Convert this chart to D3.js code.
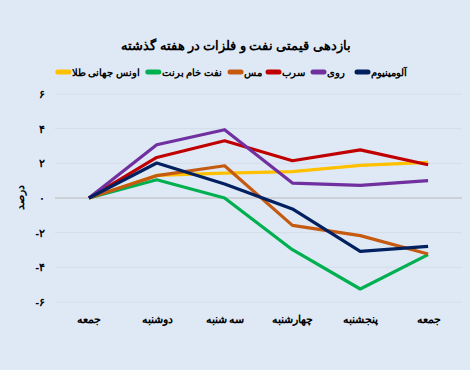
<!DOCTYPE html>
<html>
<head>
<meta charset="utf-8">
<script src="https://cdn.jsdelivr.net/npm/d3@7"></script>
<style>
  body { margin: 0; background: #dfe9f5; }
  svg { display: block; font-family: "Noto Sans", sans-serif; font-weight: bold; }
</style>
</head>
<body>
<svg id="chart" width="470" height="370"></svg>
<script>
// روزهای هفته (محور افقی)
var days = ["جمعه", "دوشنبه", "سه شنبه", "چهارشنبه", "پنجشنبه", "جمعه "];
var yTicks = [-6, -4, -2, 0, 2, 4, 6];

// بازدهی هر دارایی (درصد)
var gold     = [0, 1.30, 1.44, 1.52, 1.88, 2.05];
var brent    = [0, 1.05, 0.00, -2.98, -5.25, -3.27];
var copper   = [0, 1.29, 1.86, -1.58, -2.17, -3.23];
var lead     = [0, 2.34, 3.30, 2.15, 2.78, 1.92];
var zinc     = [0, 3.07, 3.94, 0.86, 0.73, 1.00];
var aluminum = [0, 2.02, 0.81, -0.63, -3.08, -2.79];

var seriesNames  = ["اونس جهانی طلا", "نفت خام برنت", "مس", "سرب", "روی", "آلومینیوم"];
var seriesValues = [gold, brent, copper, lead, zinc, aluminum];
var seriesColors = ["#ffc000", "#00b050", "#c55a11", "#c00000", "#7030a0", "#002060"];

var svg = d3.select("#chart");
var margin = {left: 55, right: 8};
var W = 470;

function fa(n) {
    var s = String(Math.abs(n)).replace(/[0-9]/g, function(c) { return "۰۱۲۳۴۵۶۷۸۹"[+c]; });
    return n < 0 ? "-" + s : s;
}

var x = d3.scalePoint().domain(days).range([margin.left, W - margin.right]).padding(0.5);
var y = d3.scaleLinear().domain([-6, 6]).range([302, 94]);

// grid
svg.append("g").selectAll("line")
    .data(yTicks)
    .enter().append("line")
    .attr("x1", margin.left).attr("x2", 462)
    .attr("y1", d => y(d)).attr("y2", d => y(d))
    .attr("stroke", d => d === 0 ? "#cdd1d6" : "#d4dde8")
    .attr("stroke-width", d => d === 0 ? 2 : 1);

// y axis labels
var yAxis = svg.append("g")
    .attr("transform", "translate(45,0)")
    .call(d3.axisLeft(y).tickValues(yTicks).tickSize(0).tickPadding(0).tickFormat(fa));
yAxis.select(".domain").remove();
yAxis.selectAll("text")
    .attr("font-family", "Noto Sans").attr("font-weight", "bold")
    .attr("font-size", 11).attr("fill", "#000").attr("text-anchor", "end");

// x axis labels
var xAxis = svg.append("g")
    .attr("transform", "translate(0,313)")
    .call(d3.axisBottom(x).tickSize(0));
xAxis.select(".domain").remove();
xAxis.selectAll("text")
    .attr("font-family", "Noto Sans").attr("font-weight", "bold")
    .attr("font-size", 10.5).attr("fill", "#000");

// lines
var line = d3.line().x((d, i) => x(days[i])).y(d => y(d));
svg.append("g").selectAll("path")
    .data(seriesValues)
    .enter().append("path")
    .attr("d", line)
    .attr("fill", "none")
    .attr("stroke", (d, i) => seriesColors[i])
    .attr("stroke-width", 3.2)
    .attr("stroke-linejoin", "round");

// title
svg.append("text")
    .attr("x", 236).attr("y", 50)
    .attr("text-anchor", "middle")
    .attr("font-size", 12.8)
    .attr("fill", "#000")
    .text("بازدهی قیمتی نفت و فلزات در هفته گذشته");

// y label
svg.append("text")
    .attr("transform", "translate(24,197) rotate(-90)")
    .attr("text-anchor", "middle")
    .attr("font-size", 10.5)
    .text("درصد");

// legend (right to left), right edge of each label
var legendX = [407, 345, 305, 262, 222, 140];
var legend = svg.append("g").selectAll("g")
    .data(seriesNames.map((n, i) => i).reverse())
    .enter().append("g");
legend.append("text")
    .attr("x", (d, j) => legendX[j])
    .attr("y", 76)
    .attr("text-anchor", "end")
    .attr("font-size", 10)
    .text(d => seriesNames[d]);
legend.append("line")
    .attr("x1", function(d, j) { return legendX[j] - this.parentNode.querySelector("text").getComputedTextLength() - 14; })
    .attr("x2", function(d, j) { return legendX[j] - this.parentNode.querySelector("text").getComputedTextLength() - 3; })
    .attr("y1", 72).attr("y2", 72)
    .attr("stroke", d => seriesColors[d])
    .attr("stroke-width", 5)
    .attr("stroke-linecap", "round");
</script>
</body>
</html>
